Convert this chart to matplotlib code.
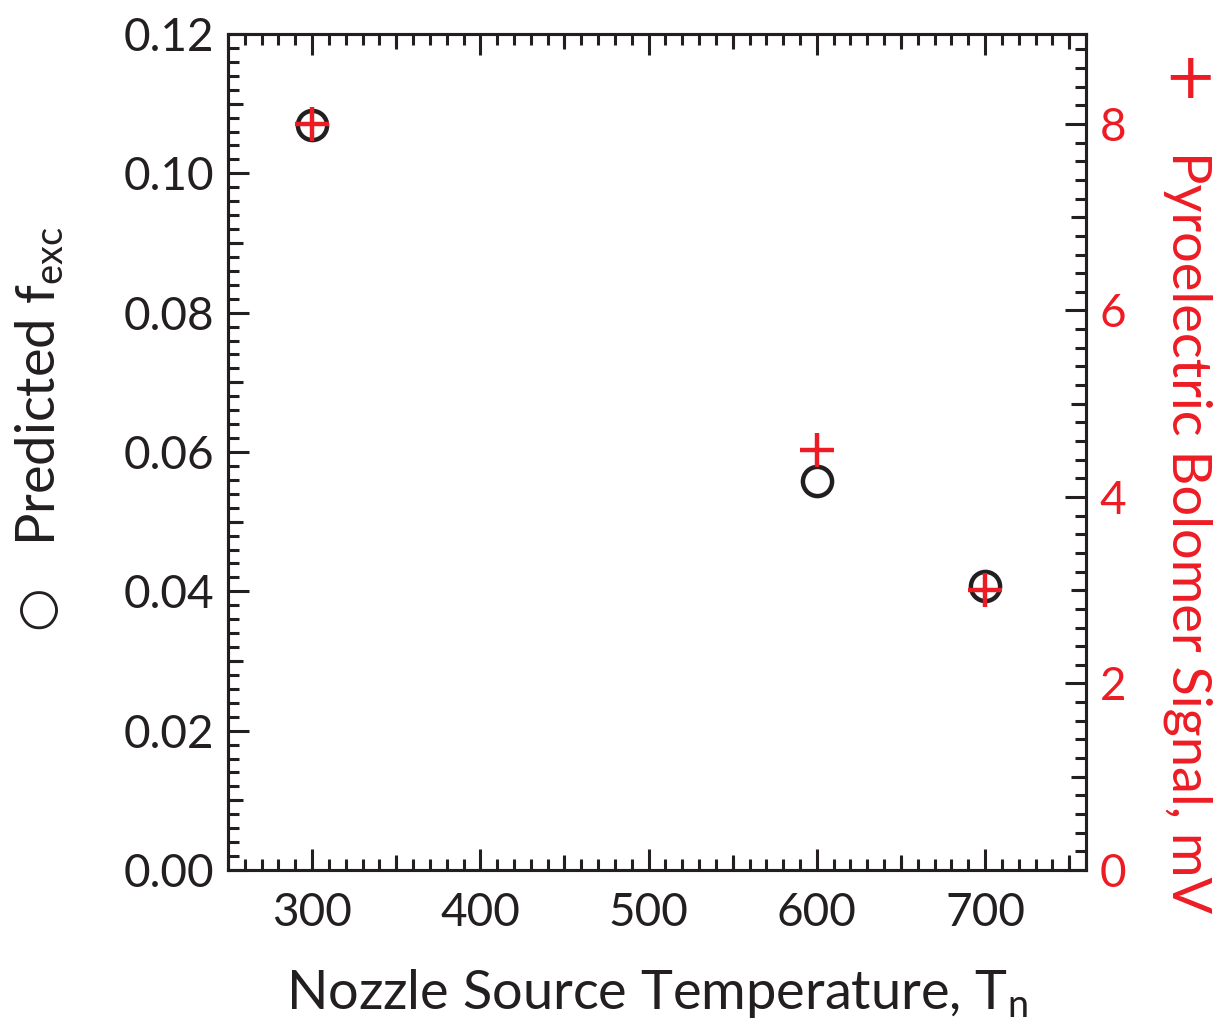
import matplotlib
matplotlib.use('Agg')
import matplotlib.pyplot as plt
from matplotlib.ticker import MultipleLocator

plt.rcParams['font.family'] = ['Lato', 'DejaVu Sans']
plt.rcParams['mathtext.default'] = 'regular'
plt.rcParams['font.size'] = 33

red = '#ED1C24'
dark = '#231f20'

# data
temps = [300, 600, 700]
f_exc = [0.107, 0.0558, 0.0408]
bolo_signal = [8.0, 4.5, 3.0]

fig = plt.figure(figsize=(12.17, 10.23), dpi=100)
W, H = 1217, 1023
ax = fig.add_axes([228 / W, (H - 870) / H, 858 / W, 836 / H])
ax2 = ax.twinx()

ax.plot(temps, f_exc, linestyle='none', marker='o', markersize=21,
        markerfacecolor='none', markeredgecolor=dark, markeredgewidth=3.2)
ax2.plot(temps, bolo_signal, linestyle='none', marker='+', markersize=25,
         color=red, markeredgewidth=3.2)

ax.set_xlim(250, 760)
ax.set_ylim(0, 0.12)
ax2.set_ylim(0, 8.965)

ax.xaxis.set_major_locator(MultipleLocator(100))
ax.xaxis.set_minor_locator(MultipleLocator(10))
ax.yaxis.set_major_locator(MultipleLocator(0.02))
ax.yaxis.set_minor_locator(MultipleLocator(0.002))
ax.yaxis.set_major_formatter(lambda v, p: '%.2f' % v)
ax2.yaxis.set_major_locator(MultipleLocator(2))
ax2.yaxis.set_minor_locator(MultipleLocator(0.2))

for a in (ax, ax2):
    for s in a.spines.values():
        s.set_linewidth(2.2)
        s.set_color(dark)

ax.tick_params(axis='x', which='both', direction='in', top=True, color=dark,
               labelcolor=dark, pad=16)
ax.tick_params(axis='y', which='both', direction='in', right=False, color=dark,
               labelcolor=dark, pad=10)
ax.tick_params(which='major', length=15, width=2.2)
ax.tick_params(which='minor', length=8, width=2.2)
ax2.tick_params(axis='y', which='both', direction='in', color=dark,
                labelcolor=red, pad=10)
ax2.tick_params(which='major', length=15, width=2.2)
ax2.tick_params(which='minor', length=8, width=2.2)

# medium ticks halfway between labelled ones
for side in ('bottom', 'top'):
    sec = ax.secondary_xaxis(side)
    sec.set_xticks([350, 450, 550, 650, 750])
    sec.tick_params(direction='in', length=10.5, width=2.2, color=dark, labelsize=0)
    sec.set_xticklabels([])
    sec.spines[side].set_visible(False)
secl = ax.secondary_yaxis('left')
secl.set_yticks([0.01, 0.03, 0.05, 0.07, 0.09, 0.11])
secl.tick_params(direction='in', length=10.5, width=2.2, color=dark)
secl.set_yticklabels([])
secl.spines['left'].set_visible(False)
secr = ax2.secondary_yaxis('right')
secr.set_yticks([1, 3, 5, 7])
secr.tick_params(direction='in', length=10.5, width=2.2, color=dark)
secr.set_yticklabels([])
secr.spines['right'].set_visible(False)

fig.text(657 / W, 1 - 993 / H, 'Nozzle Source Temperature, T$_n$', fontsize=39,
         ha='center', va='center', color=dark)
fig.text(36 / W, 1 - 607 / H, '\u25cb', family='DejaVu Sans', fontsize=36,
         fontweight='bold', rotation=90, ha='center', va='center', color=dark)
fig.text(40 / W, 1 - 386 / H, 'Predicted f$_{exc}$', fontsize=39, rotation=90,
         ha='center', va='center', color=dark)
fig.text(1190 / W, 1 - 80 / H, '+', family='DejaVu Sans', fontsize=46,
         ha='center', va='center', color=red)
fig.text(1188 / W, 1 - 532 / H, 'Pyroelectric Bolomer Signal, mV', fontsize=39,
         rotation=-90, ha='center', va='center', color=red)

fig.savefig('out.png', dpi=100)
